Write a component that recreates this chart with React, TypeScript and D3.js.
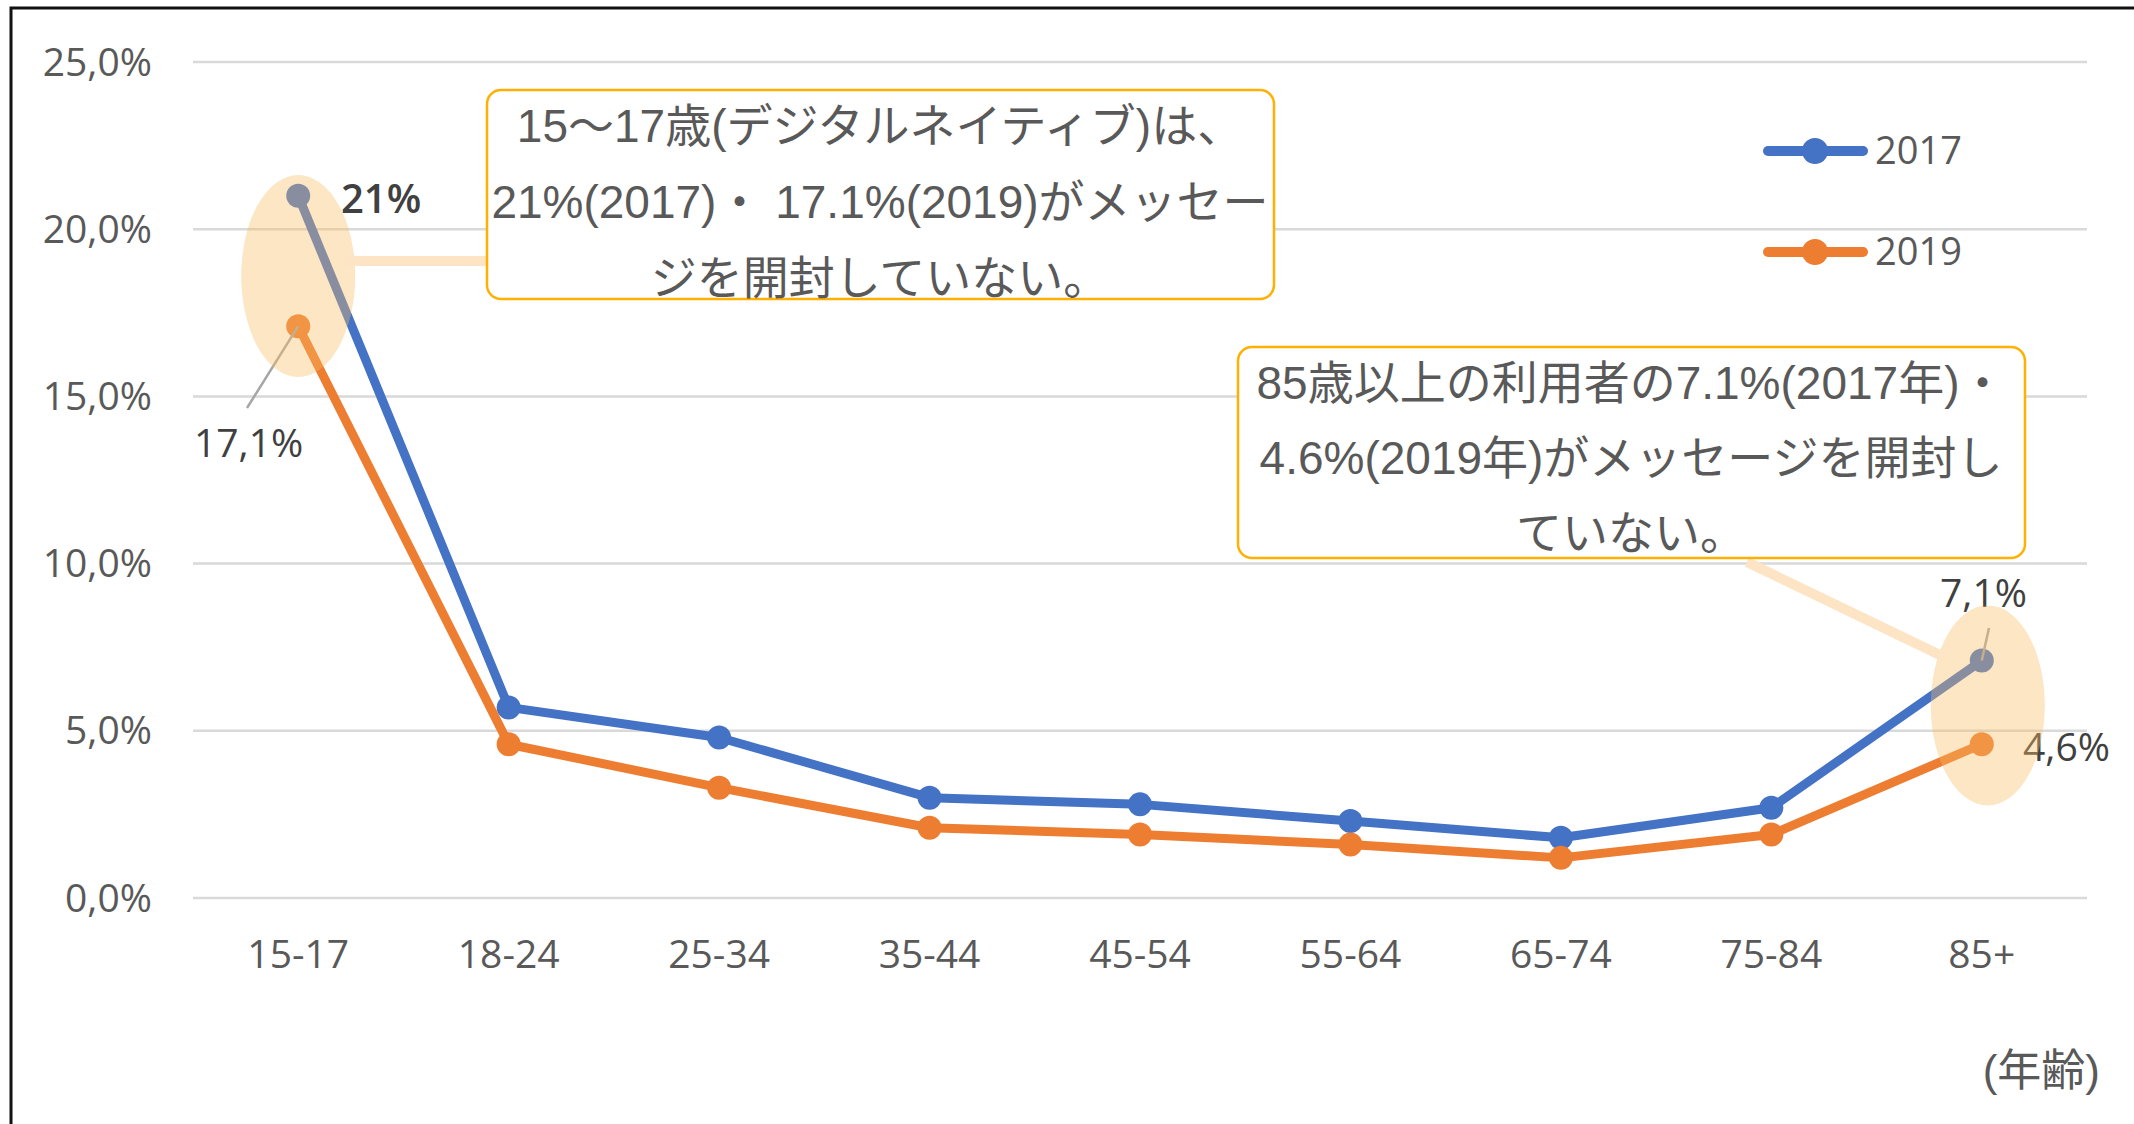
import React from "react";
import * as d3 from "d3";

const categories = ["15-17", "18-24", "25-34", "35-44", "45-54", "55-64", "65-74", "75-84", "85+"];
const series2017 = [21.0, 5.7, 4.8, 3.0, 2.8, 2.3, 1.8, 2.7, 7.1];
const series2019 = [17.1, 4.6, 3.3, 2.1, 1.9, 1.6, 1.2, 1.9, 4.6];
const yTicks = [0, 5, 10, 15, 20, 25];
const yTickLabels = ["0,0%", "5,0%", "10,0%", "15,0%", "20,0%", "25,0%"];
const seriesNames = ["2017", "2019"];
const box1Lines = ["15〜17歳(デジタルネイティブ)は、", "21%(2017)・ 17.1%(2019)がメッセー", "ジを開封していない。"];
const box2Lines = ["85歳以上の利用者の7.1%(2017年)・", "4.6%(2019年)がメッセージを開封し", "ていない。"];
const xAxisTitle = "(年齢)";

const W = 2134;
const H = 1124;
const BLUE = "#4472C4";
const ORANGE = "#ED7D31";
const HILITE = "rgba(248,190,100,0.38)";
const HILITE_LINE = "#FCE4C4";
const BOX_STROKE = "#FFB000";
const TXT = "#595959";
const LATIN = "'Open Sans', sans-serif";
const JP = "'Liberation Sans', 'Noto Sans CJK JP', sans-serif";

export default function App() {
  const x = d3.scaleBand<string>().domain(categories).range([193, 2087]);
  const cx = (c: string) => (x(c) as number) + x.bandwidth() / 2;
  const y = d3.scaleLinear().domain([0, 25]).range([898, 62]);
  const line = d3
    .line<number>()
    .x((_, i) => cx(categories[i]))
    .y((d) => y(d));

  const series = [
    { name: seriesNames[0], values: series2017, color: BLUE },
    { name: seriesNames[1], values: series2019, color: ORANGE },
  ];

  const first = categories[0];
  const last = categories[categories.length - 1];
  const n = categories.length - 1;

  const e1 = { cx: cx(first), cy: (y(series2017[0]) + y(series2019[0])) / 2 + 15, rx: 57, ry: 101 };
  const e2 = { cx: cx(last) + 6, cy: (y(series2017[n]) + y(series2019[n])) / 2 + 3, rx: 57, ry: 100 };

  return (
    <svg width={W} height={H} style={{ position: "absolute", left: 0, top: 0, display: "block", background: "#fff" }}>
      <rect x={0} y={0} width={W} height={H} fill="#fff" />
      {/* frame */}
      <path d={`M11,${H} L11,8 L${W},8`} fill="none" stroke="#111" strokeWidth={3} />

      {/* gridlines */}
      {yTicks.map((t) => (
        <line key={t} x1={193} x2={2087} y1={y(t)} y2={y(t)} stroke="#D9D9D9" strokeWidth={2.5} />
      ))}
      {yTicks.map((t, i) => (
        <text key={"yl" + t} x={152} y={y(t)} dy="0.35em" textAnchor="end" fontFamily={LATIN} fontSize={39} fill={TXT}>
          {yTickLabels[i]}
        </text>
      ))}
      {categories.map((c) => (
        <text key={c} x={cx(c)} y={954} dy="0.35em" textAnchor="middle" fontFamily={LATIN} fontSize={39} fill={TXT}>
          {c}
        </text>
      ))}
      <text x={2100} y={1070} dy="0.36em" textAnchor="end" fontFamily={JP} fontSize={44} fill={TXT}>
        {xAxisTitle}
      </text>

      {/* lines */}
      {series.map((s) => (
        <g key={s.name}>
          <path d={line(s.values) as string} fill="none" stroke={s.color} strokeWidth={9} strokeLinejoin="round" />
          {s.values.map((v, i) => (
            <circle key={i} cx={cx(categories[i])} cy={y(v)} r={12} fill={s.color} />
          ))}
        </g>
      ))}

      {/* data labels */}
      <text x={341} y={y(series2017[0]) + 3} dy="0.35em" fontFamily={LATIN} fontSize={40} fontWeight={600} fill="#404040">
        21%
      </text>
      <line x1={247} y1={408} x2={cx(first)} y2={y(series2019[0])} stroke="#A6A6A6" strokeWidth={2.5} />
      <text x={194} y={443} dy="0.35em" fontFamily={LATIN} fontSize={39} fill="#404040">
        17,1%
      </text>
      <line x1={1989} y1={628} x2={cx(last)} y2={y(series2017[n])} stroke="#A6A6A6" strokeWidth={2.5} />
      <text x={1940} y={593} dy="0.35em" fontFamily={LATIN} fontSize={39} fill="#404040">
        7,1%
      </text>
      <text x={2023} y={747} dy="0.35em" fontFamily={LATIN} fontSize={39} fill="#404040">
        4,6%
      </text>

      {/* highlight ellipses */}
      <ellipse cx={e1.cx} cy={e1.cy} rx={e1.rx} ry={e1.ry} fill={HILITE} />
      <ellipse cx={e2.cx} cy={e2.cy} rx={e2.rx} ry={e2.ry} fill={HILITE} />

      {/* connectors */}
      <line x1={344} y1={261} x2={487} y2={261} stroke={HILITE_LINE} strokeWidth={10} />
      <line x1={1747} y1={562} x2={1940} y2={655} stroke={HILITE_LINE} strokeWidth={10} />

      {/* annotation boxes */}
      <rect x={487} y={90} width={787} height={209} rx={14} fill="#fff" stroke={BOX_STROKE} strokeWidth={2.5} />
      {box1Lines.map((l, i) => (
        <text key={l} x={880} y={125 + i * 76} dy="0.36em" textAnchor="middle" fontFamily={JP} fontSize={46} fill={TXT}>
          {l}
        </text>
      ))}
      <rect x={1238} y={347} width={787} height={211} rx={14} fill="#fff" stroke={BOX_STROKE} strokeWidth={2.5} />
      {box2Lines.map((l, i) => (
        <text key={l} x={1631} y={382 + i * 75} dy="0.36em" textAnchor="middle" fontFamily={JP} fontSize={46} fill={TXT}>
          {l}
        </text>
      ))}

      {/* legend */}
      {series.map((s, i) => (
        <g key={"lg" + s.name} transform={`translate(0,${151 + i * 101})`}>
          <line x1={1768} x2={1863} y1={0} y2={0} stroke={s.color} strokeWidth={10} strokeLinecap="round" />
          <circle cx={1815} cy={0} r={13} fill={s.color} />
          <text x={1875} y={0} dy="0.35em" fontFamily={LATIN} fontSize={38} fill={TXT}>
            {s.name}
          </text>
        </g>
      ))}
    </svg>
  );
}
